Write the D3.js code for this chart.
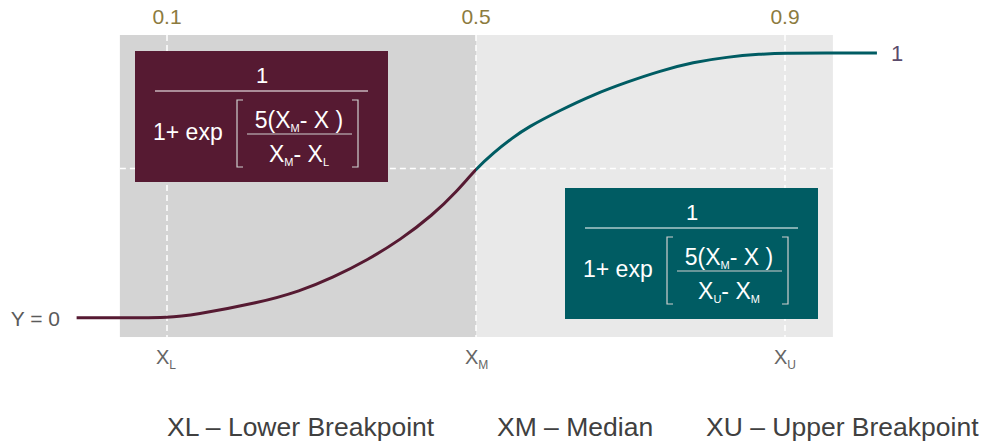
<!DOCTYPE html>
<html>
  <head>
    <title>Sigmoid breakpoints</title>
    <script src="https://d3js.org/d3.v7.min.js"></script>
    <style>
      body { margin: 0; background: #fff; }
      text { font-family: "Liberation Sans", Arial, sans-serif; }
    </style>
  </head>
  <body>
    <svg width="984" height="447"></svg>
</body>
</html>
<script>

// breakpoints and labels
const breakX = [0.1, 0.5, 0.9];
const topLabels = ['0.1', '0.5', '0.9'];
const breakSubs = ['L', 'M', 'U'];
const legendItems = ['XL \u2013 Lower Breakpoint', 'XM \u2013 Median', 'XU \u2013 Upper Breakpoint'];

// curve
const curveX = [-0.017, 0.06, 0.1, 0.134, 0.22, 0.272, 0.315, 0.359, 0.402, 0.444, 0.475, 0.5, 0.522, 0.548, 0.566, 0.609, 0.652, 0.696, 0.738, 0.781, 0.825, 0.868, 0.9, 0.95, 1.019];
const curveY = [0, 0, 0, 0.01, 0.057, 0.1, 0.152, 0.217, 0.294, 0.388, 0.476, 0.562, 0.622, 0.681, 0.718, 0.784, 0.843, 0.891, 0.932, 0.965, 0.985, 0.996, 1, 1, 1];
const midY = 0.564;

// shaded bands
const bandX0 = [0.039, 0.5];
const bandX1 = [0.5, 0.962];
const bandY = [-0.073, 1.068];

const maroon = '#561a32';
const teal = '#005c63';

const svg = d3.select('svg');
const x = d3.scaleLinear().domain([0.1, 0.9]).range([167, 785]);
const y = d3.scaleLinear().domain([0, 1]).range([317.7, 53]);

const bands = bandX0.map((d, i) => ({x0: d, x1: bandX1[i], fill: i === 0 ? '#d4d4d4' : '#e9e9e9'}));

svg.selectAll('rect.band')
  .data(bands)
  .enter()
  .append('rect')
  .classed('band', true)
  .attr('x', d => x(d.x0))
  .attr('width', d => x(d.x1) - x(d.x0))
  .attr('y', y(bandY[1]))
  .attr('height', y(bandY[0]) - y(bandY[1]))
  .style('fill', d => d.fill);

// dashed guides
svg.selectAll('line.vguide')
  .data(breakX)
  .enter()
  .append('line')
  .classed('vguide', true)
  .attr('x1', d => x(d))
  .attr('x2', d => x(d))
  .attr('y1', y(bandY[1]))
  .attr('y2', y(bandY[0]))
  .style('stroke', '#fff')
  .style('stroke-width', 1.5)
  .style('stroke-dasharray', '6,4');

svg.append('line')
  .attr('x1', x(bandX0[0]))
  .attr('x2', x(bandX1[1]))
  .attr('y1', y(midY))
  .attr('y2', y(midY))
  .style('stroke', '#fff')
  .style('stroke-width', 1.5)
  .style('stroke-dasharray', '6,4');

// curve: one path, coloured by clipping either side of the median
const pts = curveX.map((d, i) => [d, curveY[i]]);
const line = d3.line().x(d => x(d[0])).y(d => y(d[1])).curve(d3.curveBasis);

const defs = svg.append('defs');
defs.append('clipPath').attr('id', 'clipL')
  .append('rect').attr('x', 0).attr('y', 0).attr('width', x(0.5)).attr('height', 447);
defs.append('clipPath').attr('id', 'clipR')
  .append('rect').attr('x', x(0.5)).attr('y', 0).attr('width', 984).attr('height', 447);

svg.append('path')
  .attr('d', line(pts))
  .attr('clip-path', 'url(#clipL)')
  .style('fill', 'none')
  .style('stroke', maroon)
  .style('stroke-width', 3);

svg.append('path')
  .attr('d', line(pts))
  .attr('clip-path', 'url(#clipR)')
  .style('fill', 'none')
  .style('stroke', teal)
  .style('stroke-width', 3);

// top labels
svg.selectAll('text.top')
  .data(breakX)
  .enter()
  .append('text')
  .classed('top', true)
  .attr('x', d => x(d))
  .attr('y', 24)
  .attr('text-anchor', 'middle')
  .style('font-size', '21px')
  .style('fill', '#8c7b3e')
  .text((d, i) => topLabels[i]);

// end labels
svg.append('text')
  .attr('x', 60)
  .attr('y', y(0) + 8)
  .attr('text-anchor', 'end')
  .style('font-size', '21px')
  .style('fill', '#5a5a5a')
  .text('Y = 0');

svg.append('text')
  .attr('x', 891)
  .attr('y', y(1) + 8)
  .style('font-size', '22px')
  .style('fill', '#5b4b6b')
  .text('1');

// bottom X labels
const xl = svg.selectAll('text.xl')
  .data(breakX)
  .enter()
  .append('text')
  .classed('xl', true)
  .attr('x', d => x(d) - 11)
  .attr('y', 364)
  .style('font-size', '20px')
  .style('fill', '#666');
xl.append('tspan').text('X');
xl.append('tspan')
  .attr('dy', 5)
  .style('font-size', '12px')
  .text((d, i) => breakSubs[i]);

// legend
const legendPos = [167, 497, 706];
svg.selectAll('text.legend')
  .data(legendItems)
  .enter()
  .append('text')
  .classed('legend', true)
  .attr('x', (d, i) => legendPos[i])
  .attr('y', 436)
  .style('font-size', '26.5px')
  .style('fill', '#404040')
  .text(d => d);

// formula boxes
function formulaBox(bx, by, fill, denA, denB) {
  const g = svg.append('g').attr('transform', `translate(${bx},${by})`);
  const white = '#fff';
  const grey = '#d0d0d0';
  g.append('rect').attr('width', 253).attr('height', 131).style('fill', fill);
  g.append('text').attr('x', 127).attr('y', 32).attr('text-anchor', 'middle')
    .style('font-size', '22px').style('fill', white).text('1');
  g.append('line').attr('x1', 20).attr('x2', 233).attr('y1', 40).attr('y2', 40)
    .style('stroke', white).style('stroke-width', 1.2);
  g.append('text').attr('x', 18).attr('y', 89)
    .style('font-size', '23px').style('fill', white).text('1+ exp');
  // brackets
  const br = d3.line();
  g.append('path').attr('d', br([[108, 49], [102, 49], [102, 116], [108, 116]]))
    .style('fill', 'none').style('stroke', grey).style('stroke-width', 1.2);
  g.append('path').attr('d', br([[217, 49], [223, 49], [223, 116], [217, 116]]))
    .style('fill', 'none').style('stroke', grey).style('stroke-width', 1.2);
  // inner fraction
  const num = g.append('text').attr('x', 164).attr('y', 77).attr('text-anchor', 'middle')
    .style('font-size', '23px').style('fill', white);
  num.append('tspan').text('5(X');
  num.append('tspan').attr('dy', 4).style('font-size', '11px').text('M');
  num.append('tspan').attr('dy', -4).text('- X )');
  g.append('line').attr('x1', 112).attr('x2', 217).attr('y1', 83).attr('y2', 83)
    .style('stroke', grey).style('stroke-width', 1.2);
  const den = g.append('text').attr('x', 164).attr('y', 111).attr('text-anchor', 'middle')
    .style('font-size', '23px').style('fill', white);
  den.append('tspan').text('X');
  den.append('tspan').attr('dy', 4).style('font-size', '11px').text(denA);
  den.append('tspan').attr('dy', -4).text('- X');
  den.append('tspan').attr('dy', 4).style('font-size', '11px').text(denB);
}

formulaBox(135, 51, maroon, 'M', 'L');
formulaBox(565, 188, teal, 'U', 'M');

</script>
